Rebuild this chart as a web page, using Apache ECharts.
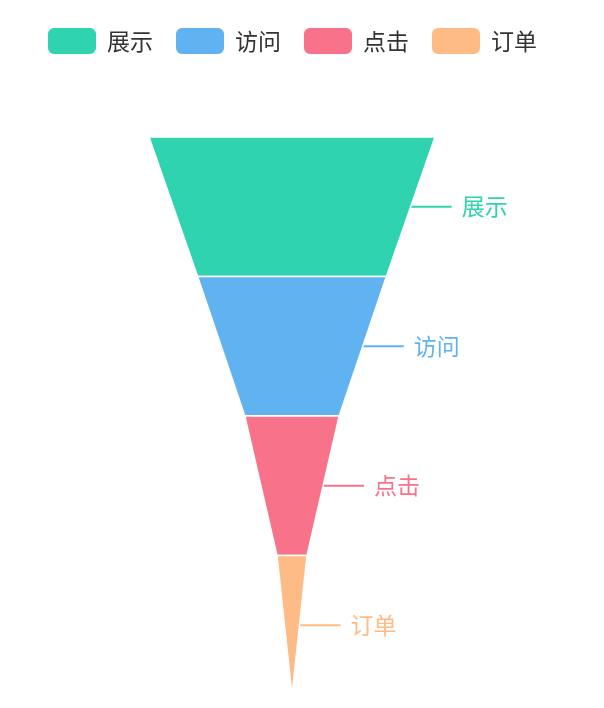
<!DOCTYPE html>
<html>
<head>
<meta charset="utf-8">
<script src="https://cdn.jsdelivr.net/npm/echarts@6/dist/echarts.min.js"></script>
<style>html,body{margin:0;padding:0;background:#fff}#c{width:604px;height:708px}</style>
</head>
<body>
<div id="c"></div>
<script>
var categories = ['展示', '访问', '点击', '订单'];
var values = [100, 66, 33, 10.5];
var colors = ['#2FD3AF', '#60B3F0', '#F8728A', '#FFBB86'];

var chart = echarts.init(document.getElementById('c'));
chart.setOption({
  animation: false,
  color: colors,
  legend: {
    data: categories,
    left: 46,
    top: 26,
    padding: 0,
    itemWidth: 50,
    itemHeight: 28,
    itemGap: 21,
    icon: 'roundRect',
    textStyle: { fontSize: 23, color: '#333', fontFamily: 'Noto Sans CJK SC', padding: [0, 0, 0, 5] }
  },
  series: [{
    type: 'funnel',
    left: 149,
    top: 137,
    width: 286,
    height: 558,
    min: 0,
    max: 100,
    minSize: '0%',
    maxSize: '100%',
    sort: 'descending',
    gap: 0,
    itemStyle: { borderColor: '#fff', borderWidth: 1.5 },
    label: {
      show: true,
      position: 'right',
      fontSize: 23,
      color: 'inherit',
      fontFamily: 'Noto Sans CJK SC',
      padding: [0, 0, 0, 5]
    },
    labelLine: { show: true, length: 41, lineStyle: { width: 2 } },
    data: categories.map(function (n, i) {
      return { name: n, value: values[i], label: { color: colors[i] } };
    })
  }]
});
</script>
</body>
</html>
